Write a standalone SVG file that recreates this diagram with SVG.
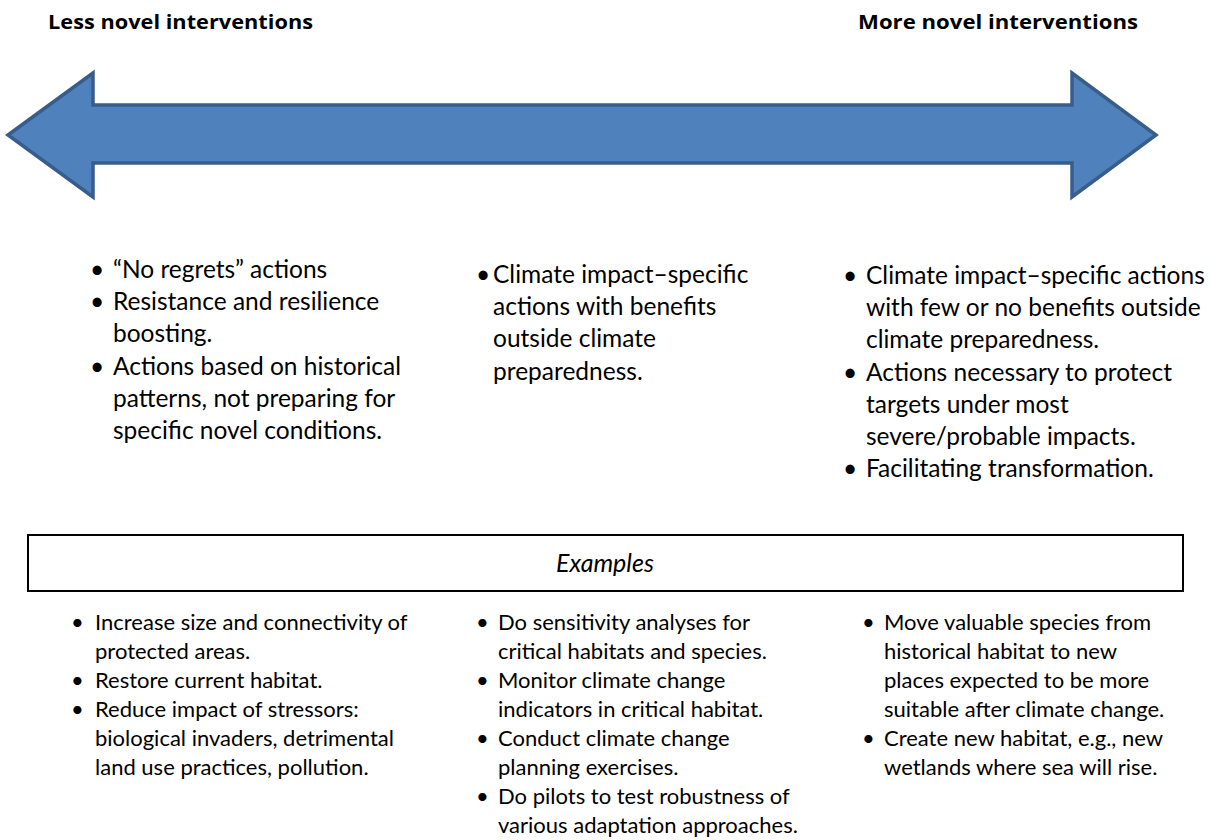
<svg xmlns="http://www.w3.org/2000/svg" width="1211" height="840" viewBox="0 0 1211 840">
<style>
.hdr{font-family:"Open Sans",Lato,sans-serif;font-weight:bold;font-size:19.5px;fill:#000}
.t{font-family:Lato,"Open Sans",sans-serif;font-size:24.5px;fill:#000}
.s{font-family:Lato,"Open Sans",sans-serif;font-size:22px;fill:#000}
.ex{font-family:Lato,"Open Sans",sans-serif;font-style:italic;font-size:25px;fill:#000}
.arrow{fill:#4F81BD;stroke:#385D8A;stroke-width:3.5;stroke-linejoin:miter}
.box{fill:#fff;stroke:#000;stroke-width:2}
</style>
<rect width="1211" height="840" fill="#fff"/>
<g id="header-left"><text class="hdr" x="48" y="29" textLength="265" lengthAdjust="spacingAndGlyphs">Less novel interventions</text></g>
<g id="header-right"><text class="hdr" x="858" y="29" textLength="280" lengthAdjust="spacingAndGlyphs">More novel interventions</text></g>
<g id="connectors">
<polygon class="arrow" points="8,135 93,73 93,105 1072,105 1072,73 1156,135 1072,197 1072,163 93,163 93,197"/>
</g>
<g id="col1">
<text class="t" x="90" y="278">•</text><text class="t" x="113" y="278">“No regrets” actions</text>
<text class="t" x="90" y="310.2">•</text><text class="t" x="113" y="310.2">Resistance and resilience</text>
<text class="t" x="113" y="342.4">boosting.</text>
<text class="t" x="90" y="374.6">•</text><text class="t" x="113" y="374.6">Actions based on historical</text>
<text class="t" x="113" y="406.8">patterns, not preparing for</text>
<text class="t" x="113" y="439">specific novel conditions.</text>
</g>
<g id="col2">
<text class="t" x="476" y="283">•</text><text class="t" x="493" y="283">Climate impact–specific</text>
<text class="t" x="493" y="315.2">actions with benefits</text>
<text class="t" x="493" y="347.4">outside climate</text>
<text class="t" x="493" y="379.6">preparedness.</text>
</g>
<g id="col3">
<text class="t" x="843" y="284">•</text><text class="t" x="866" y="284">Climate impact–specific actions</text>
<text class="t" x="866" y="316.2">with few or no benefits outside</text>
<text class="t" x="866" y="348.4">climate preparedness.</text>
<text class="t" x="843" y="380.6">•</text><text class="t" x="866" y="380.6">Actions necessary to protect</text>
<text class="t" x="866" y="412.8">targets under most</text>
<text class="t" x="866" y="445">severe/probable impacts.</text>
<text class="t" x="843" y="477.2">•</text><text class="t" x="866" y="477.2">Facilitating transformation.</text>
</g>
<g id="examples">
<rect class="box" x="28" y="535" width="1155" height="56"/>
<text class="ex" x="605" y="572" text-anchor="middle">Examples</text>
</g>
<g id="ex1">
<text class="s" x="71" y="630">•</text><text class="s" x="95" y="630">Increase size and connectivity of</text>
<text class="s" x="95" y="659">protected areas.</text>
<text class="s" x="71" y="688">•</text><text class="s" x="95" y="688">Restore current habitat.</text>
<text class="s" x="71" y="717">•</text><text class="s" x="95" y="717">Reduce impact of stressors:</text>
<text class="s" x="95" y="746">biological invaders, detrimental</text>
<text class="s" x="95" y="775">land use practices, pollution.</text>
</g>
<g id="ex2">
<text class="s" x="476" y="630">•</text><text class="s" x="498" y="630">Do sensitivity analyses for</text>
<text class="s" x="498" y="659">critical habitats and species.</text>
<text class="s" x="476" y="688">•</text><text class="s" x="498" y="688">Monitor climate change</text>
<text class="s" x="498" y="717">indicators in critical habitat.</text>
<text class="s" x="476" y="746">•</text><text class="s" x="498" y="746">Conduct climate change</text>
<text class="s" x="498" y="775">planning exercises.</text>
<text class="s" x="476" y="804">•</text><text class="s" x="498" y="804">Do pilots to test robustness of</text>
<text class="s" x="498" y="833">various adaptation approaches.</text>
</g>
<g id="ex3">
<text class="s" x="862" y="630">•</text><text class="s" x="884" y="630">Move valuable species from</text>
<text class="s" x="884" y="659">historical habitat to new</text>
<text class="s" x="884" y="688">places expected to be more</text>
<text class="s" x="884" y="717">suitable after climate change.</text>
<text class="s" x="862" y="746">•</text><text class="s" x="884" y="746">Create new habitat, e.g., new</text>
<text class="s" x="884" y="775">wetlands where sea will rise.</text>
</g>
</svg>
